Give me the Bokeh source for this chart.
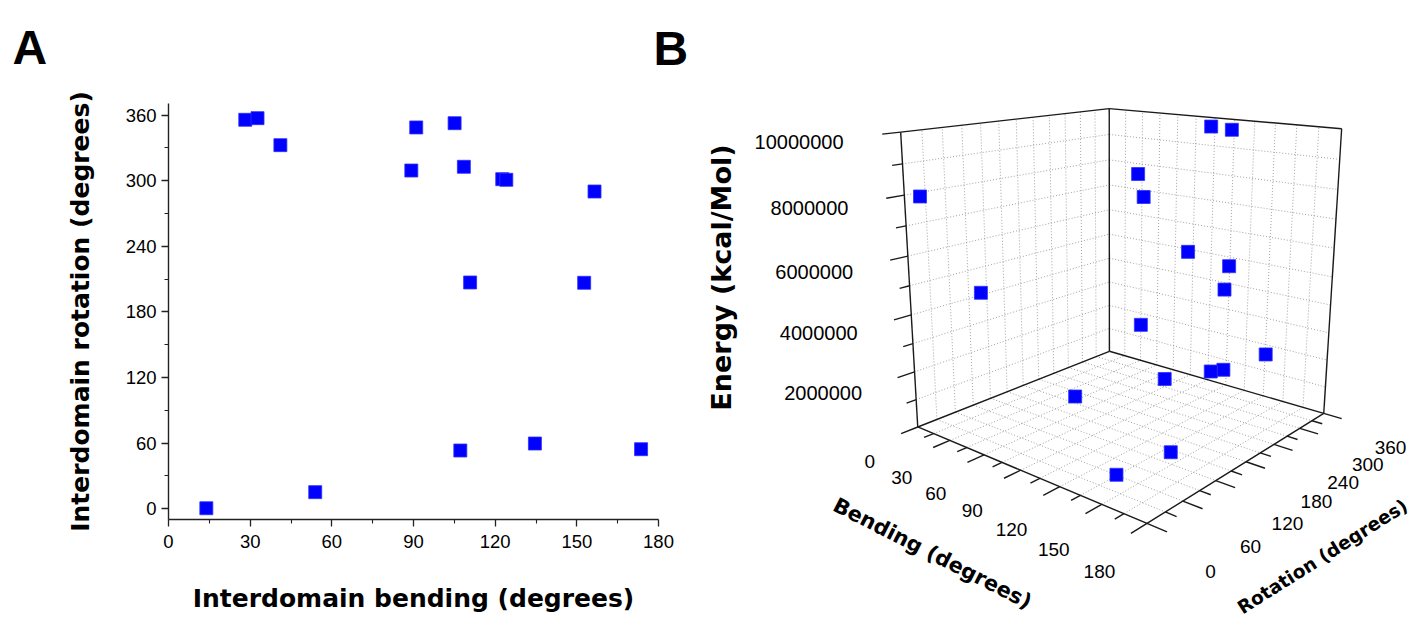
import numpy as np
from bokeh.plotting import figure
from bokeh.layouts import row, column
from bokeh.models import Range1d, FixedTicker
from bokeh.embed import file_html
from bokeh.resources import INLINE
from bokeh.core.properties import value

# ---------------- data ----------------
bending = [13.9, 28.2, 32.7, 41.1, 53.9, 89.2, 91.0, 105.1, 108.5, 110.8,
           107.2, 122.6, 124.1, 134.6, 152.7, 156.5, 173.6]
rotation = [0.5, 355.8, 357.3, 332.6, 15.2, 309.4, 348.8, 352.7, 312.8, 207.0,
            53.3, 301.5, 300.9, 59.7, 206.7, 290.2, 54.5]
energy = [8050000, 7620000, 6750000, 1835000, 5235000, 5325000, 9720000, 675000,
          975000, 1590000, 2235000, 9860000, 5170000, 15000, 5200000, 2435000, 1490000]

bend_ticks = [0, 30, 60, 90, 120, 150, 180]
rot_ticks = [0, 60, 120, 180, 240, 300, 360]
energy_ticks = [2000000, 4000000, 6000000, 8000000, 10000000]
panel_letters = ["A", "B"]
BEND_MAX, ROT_MAX, E_MAX = 180.0, 360.0, 10000000.0

# ---------------- layout constants ----------------
PAGE_W, PAGE_H = 1423, 627
STRIP_H = 80
H = PAGE_H - STRIP_H
W_A = 698
W_B = PAGE_W - W_A
TICK_FONT = "Liberation Sans"
TITLE_FONT = "DejaVu Sans"
BLUE = "#0000ff"

def mids(t):
    return [(a + b) / 2 for a, b in zip(t[:-1], t[1:])]

def no_frame_align(p):
    try:
        p.frame_align = False
    except Exception:
        pass

# ================= strip with panel letters =================
strip = figure(width=PAGE_W, height=STRIP_H, x_range=Range1d(0, PAGE_W), y_range=Range1d(-STRIP_H, 0),
               x_axis_type=None, y_axis_type=None, min_border=0,
               output_backend="svg", toolbar_location=None)
strip.grid.visible = False
strip.outline_line_color = None
strip.text([12, 653], [-47, -48], text=panel_letters, text_font=value("Liberation Sans"),
           text_font_style="bold", text_font_size=value("48px"), text_color="black",
           text_align="left", text_baseline="alphabetic")

# ================= panel A =================
A_L, A_R, A_T, A_B = 168, 40, 103 - STRIP_H, 108
pA = figure(width=W_A, height=H, x_range=Range1d(0, 180), y_range=Range1d(-9.8, 370.7),
            output_backend="svg", toolbar_location=None,
            min_border_left=A_L, min_border_right=A_R, min_border_top=A_T, min_border_bottom=A_B)
pA.grid.visible = False
pA.outline_line_color = None
pA.scatter(bending, rotation, marker="square", size=13, fill_color=BLUE,
           line_color="#3030ff", line_width=0.8)

pA.xaxis.ticker = FixedTicker(ticks=bend_ticks, minor_ticks=mids(bend_ticks))
pA.yaxis.ticker = FixedTicker(ticks=rot_ticks, minor_ticks=mids(rot_ticks))
for ax in (pA.xaxis[0], pA.yaxis[0]):
    ax.axis_line_width = 1.4
    ax.axis_line_color = "#222222"
    ax.major_tick_line_color = "#222222"
    ax.minor_tick_line_color = "#222222"
    ax.major_tick_line_width = 1.3
    ax.minor_tick_line_width = 1.1
    ax.major_tick_out = 7
    ax.major_tick_in = 0
    ax.minor_tick_out = 4
    ax.minor_tick_in = 0
    ax.major_label_text_font = TICK_FONT
    ax.major_label_text_font_size = "18.5px"
    ax.major_label_text_color = "black"
    ax.axis_label_text_font = TITLE_FONT
    ax.axis_label_text_font_style = "bold"
    ax.axis_label_text_font_size = "25px"
    ax.axis_label_text_color = "black"
pA.xaxis.axis_label = "Interdomain bending (degrees)"
pA.yaxis.axis_label = "Interdomain rotation (degrees)"
pA.xaxis.major_label_standoff = 8
pA.yaxis.major_label_standoff = 5
pA.xaxis.axis_label_standoff = 33
pA.yaxis.axis_label_standoff = 28

# ================= panel B (3D, perspective) =================
pB = figure(width=W_B, height=H, x_range=Range1d(W_A, PAGE_W), y_range=Range1d(0, H),
            x_axis_type=None, y_axis_type=None, min_border=0,
            output_backend="svg", toolbar_location=None)
pB.grid.visible = False
pB.outline_line_color = None

for p in (strip, pA, pB):
    no_frame_align(p)

# view definition: page positions of the box corners (u=bend, v=rot, w=energy, each 0..1)
VIEW_CUBE = [(0, 0, 0), (1, 0, 0), (0, 1, 0), (1, 1, 0), (0, 0, 1), (0, 1, 1), (1, 1, 1)]
VIEW_PAGE = [(917, 426), (1147, 523), (1109, 351), (1323, 413), (900, 132), (1109, 108), (1341, 128)]

def fit_camera(W, S):
    W = np.asarray(W, float); S = np.asarray(S, float)
    m = S.mean(0); sc = S.std()
    Sn = (S - m) / sc
    rows = []
    for (X, Y, Z), (x, y) in zip(W, Sn):
        rows.append([X, Y, Z, 1, 0, 0, 0, 0, -x * X, -x * Y, -x * Z, -x])
        rows.append([0, 0, 0, 0, X, Y, Z, 1, -y * X, -y * Y, -y * Z, -y])
    _, _, vt = np.linalg.svd(np.array(rows))
    T = np.array([[sc, 0, m[0]], [0, sc, m[1]], [0, 0, 1]])
    return T @ vt[-1].reshape(3, 4)

CAM = fit_camera(VIEW_CUBE, VIEW_PAGE)

def to_b(py):
    return PAGE_H - np.asarray(py, float)

def project(u, v, w):
    u, v, w = np.broadcast_arrays(np.asarray(u, float), np.asarray(v, float), np.asarray(w, float))
    X = np.stack([u.ravel(), v.ravel(), w.ravel(), np.ones(u.size)])
    p = CAM @ X
    px = p[0] / p[2]; py = p[1] / p[2]
    return px.reshape(u.shape), to_b(py).reshape(u.shape)

def seg(a, b):
    x, y = project(*zip(a, b))
    return list(x), list(y)

# grid on the back walls and the floor
grid = []
bend_grid = [k / 12 for k in range(1, 12)]
rot_grid = [k / 12 for k in range(1, 12)]
e_grid = [k / 10 for k in range(1, 10)]
for v in rot_grid:
    grid.append(seg((0, v, 0), (0, v, 1)))
    grid.append(seg((0, v, 0), (1, v, 0)))
for u in bend_grid:
    grid.append(seg((u, 1, 0), (u, 1, 1)))
    grid.append(seg((u, 0, 0), (u, 1, 0)))
for w in e_grid:
    grid.append(seg((0, 0, w), (0, 1, w)))
    grid.append(seg((0, 1, w), (1, 1, w)))
pB.multi_line([g[0] for g in grid], [g[1] for g in grid], line_color="#8a8a8a",
              line_width=0.8, line_dash="1 2")

# frame edges and ticks
edges = [((0, 0, 1), (0, 1, 1)), ((0, 1, 1), (1, 1, 1)),
         ((0, 0, 0), (0, 0, 1)), ((0, 1, 0), (0, 1, 1)), ((1, 1, 0), (1, 1, 1)),
         ((0, 0, 0), (0, 1, 0)), ((0, 1, 0), (1, 1, 0)),
         ((0, 0, 0), (1, 0, 0)), ((1, 0, 0), (1, 1, 0))]
MAJ, MIN = 0.07, 0.04
for k in range(1, 11):
    t = MAJ if k % 2 == 0 else MIN
    edges.append(((0, 0, k / 10), (0, -t, k / 10)))
for k in range(13):
    t = MAJ if k % 2 == 0 else MIN
    edges.append(((k / 12, 0, 0), (k / 12, -t, 0)))
    edges.append(((1, k / 12, 0), (1 + t, k / 12, 0)))
ex, ey = zip(*[seg(a, b) for a, b in edges])
pB.multi_line(list(ex), list(ey), line_color="#1a1a1a", line_width=1.4)

# tick labels
tf = value(TICK_FONT)
ew = [e / E_MAX - 0.01 for e in energy_ticks]
lx, ly = project(np.zeros(len(ew)), -0.21, ew)
pB.text(list(lx), list(ly), text=[str(e) for e in energy_ticks], text_font=tf,
        text_font_size=value("20px"), text_align="right", text_baseline="middle", text_color="black")
bu = [b / BEND_MAX for b in bend_ticks]
lx, ly = project(bu, -0.2, -0.055)
pB.text(list(lx), list(ly), text=[str(b) for b in bend_ticks], text_font=tf,
        text_font_size=value("19px"), text_align="center", text_baseline="middle", text_color="black")
rv = [r / ROT_MAX for r in rot_ticks]
lx, ly = project(1.2, rv, -0.07)
pB.text(list(lx), list(ly), text=[str(r) for r in rot_ticks], text_font=tf,
        text_font_size=value("19px"), text_align="left", text_baseline="middle", text_color="black")

# axis titles
titles = [("Energy (kcal/Mol)", 721, 277, 90, "27px"),
          ("Bending (degrees)", 932, 553, -27, "21px"),
          ("Rotation (degrees)", 1322, 556, 32.4, "18.5px")]
for txt, px, py, ang, fs in titles:
    pB.text([px], [float(to_b(py))], text=[txt], angle=[np.deg2rad(ang)], text_font=value(TITLE_FONT),
            text_font_style="bold", text_font_size=value(fs), text_align="center",
            text_baseline="middle", text_color="black")

# data points
U = np.array(bending) / BEND_MAX
V = np.array(rotation) / ROT_MAX
Wn = np.array(energy) / E_MAX
sx, sy = project(U, V, Wn)
pB.scatter(list(sx), list(sy), marker="square", size=13, fill_color=BLUE,
           line_color="#3030ff", line_width=0.8)

layout = column(strip, row(pA, pB))
with open("out.html", "w") as f:
    f.write(file_html(layout, INLINE))
